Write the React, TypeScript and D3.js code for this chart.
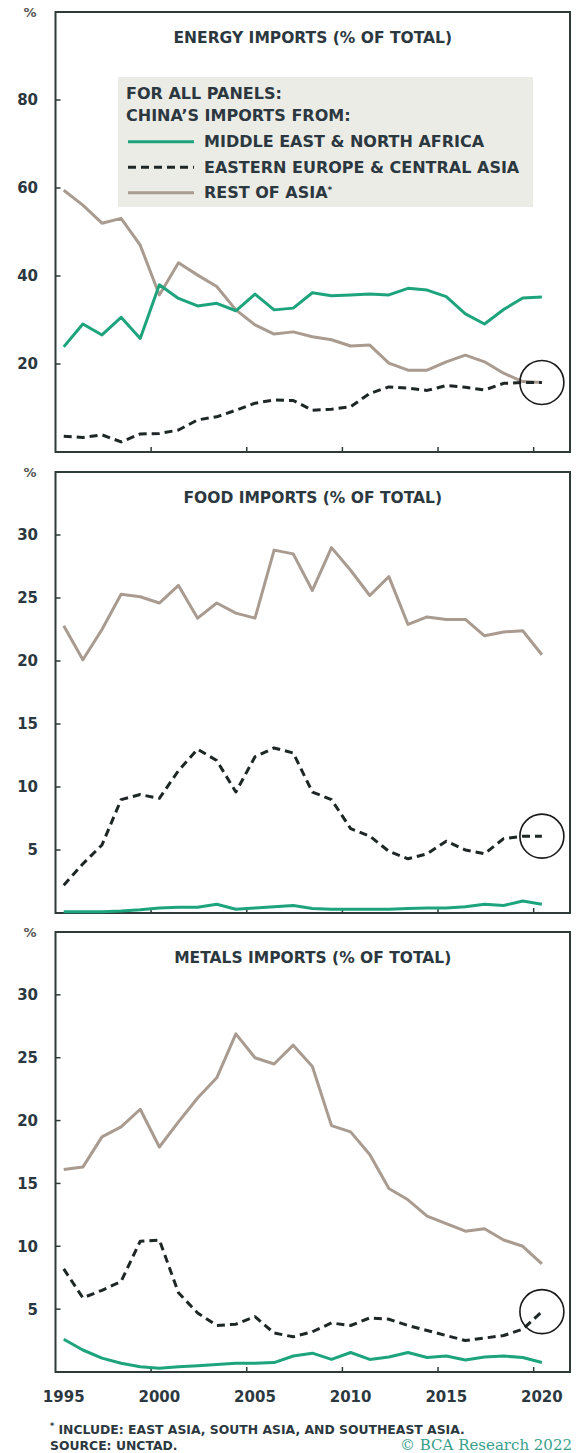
import React from "react";
import * as d3 from "d3";

const years = [1995,1996,1997,1998,1999,2000,2001,2002,2003,2004,2005,2006,2007,2008,2009,2010,2011,2012,2013,2014,2015,2016,2017,2018,2019,2020];

const energyMENA = [23.9,29.1,26.6,30.6,25.8,38.0,34.9,33.2,33.8,32.1,35.9,32.3,32.7,36.2,35.5,35.7,35.9,35.7,37.2,36.8,35.3,31.4,29.1,32.4,35.0,35.2];
const energyEECA = [3.6,3.3,3.9,2.3,4.1,4.2,5.0,7.3,8.0,9.5,11.1,11.8,11.7,9.5,9.7,10.3,13.3,14.8,14.5,14.0,15.1,14.7,14.1,15.6,15.8,15.8];
const energyRest = [59.5,56.1,52.0,53.1,47.0,35.7,43.0,40.2,37.6,32.3,28.9,26.8,27.3,26.2,25.5,24.1,24.3,20.2,18.6,18.6,20.5,22.0,20.5,17.9,16.0,15.8];

const foodMENA = [0.1,0.1,0.1,0.15,0.25,0.4,0.45,0.45,0.7,0.3,0.4,0.5,0.6,0.35,0.3,0.3,0.3,0.3,0.35,0.4,0.4,0.5,0.7,0.6,0.95,0.7];
const foodEECA = [2.2,3.9,5.4,9.0,9.4,9.1,11.3,13.0,12.1,9.6,12.4,13.1,12.7,9.6,9.0,6.7,6.1,4.9,4.3,4.7,5.7,5.0,4.7,5.9,6.1,6.1];
const foodRest = [22.8,20.1,22.5,25.3,25.1,24.6,26.0,23.4,24.6,23.8,23.4,28.8,28.5,25.6,29.0,27.2,25.2,26.7,22.9,23.5,23.3,23.3,22.0,22.3,22.4,20.5];

const metalsMENA = [2.6,1.75,1.1,0.7,0.42,0.3,0.42,0.5,0.6,0.7,0.7,0.75,1.27,1.5,1.0,1.55,1.0,1.2,1.55,1.15,1.27,0.95,1.2,1.27,1.15,0.75];
const metalsEECA = [8.2,5.9,6.5,7.2,10.4,10.5,6.3,4.7,3.7,3.8,4.4,3.1,2.8,3.2,3.9,3.7,4.3,4.2,3.7,3.3,2.9,2.5,2.7,2.9,3.4,4.8];
const metalsRest = [16.1,16.3,18.7,19.5,20.9,17.9,19.9,21.8,23.4,26.9,25.0,24.5,26.0,24.3,19.6,19.1,17.3,14.6,13.7,12.4,11.8,11.2,11.4,10.5,10.0,8.6];

const energyTicks = [20, 40, 60, 80];
const foodTicks = [5, 10, 15, 20, 25, 30];
const metalsTicks = [5, 10, 15, 20, 25, 30];
const xTickYears = [2000, 2005, 2010, 2015, 2020];
const xLabelYears = [1995, 2000, 2005, 2010, 2015, 2020];

const legendTitle1 = "FOR ALL PANELS:";
const legendTitle2 = "CHINA\u2019S IMPORTS FROM:";
const seriesNames = ["MIDDLE EAST & NORTH AFRICA", "EASTERN EUROPE & CENTRAL ASIA", "REST OF ASIA"];

const GREEN = "#1ea47c";
const DARK = "#1e2626";
const TAUPE = "#a99b90";
const FRAME = "#2e3b38";
const TEXT = "#2c3840";
const FONT = "'DejaVu Sans', sans-serif";

const OFFSET = 0.43;

export default function App() {
  const x = d3.scaleLinear().domain([1995, 2021.9]).range([55.5, 570]);

  const panels = [
    { title: "ENERGY IMPORTS (% OF TOTAL)", top: 12, bottom: 452, max: 100, ticks: energyTicks, mena: energyMENA, eeca: energyEECA, rest: energyRest, legend: true },
    { title: "FOOD IMPORTS (% OF TOTAL)", top: 472, bottom: 913, max: 35, ticks: foodTicks, mena: foodMENA, eeca: foodEECA, rest: foodRest, legend: false },
    { title: "METALS IMPORTS (% OF TOTAL)", top: 932, bottom: 1372, max: 35, ticks: metalsTicks, mena: metalsMENA, eeca: metalsEECA, rest: metalsRest, legend: false },
  ];

  const left = x.range()[0];
  const right = x.range()[1];

  return (
    <svg width={580} height={1453} style={{ position: "absolute", left: 0, top: 0, background: "#fff" }} fontFamily={FONT}>
      {panels.map((p, pi) => {
        const y = d3.scaleLinear().domain([0, p.max]).range([p.bottom, p.top]);
        const line = d3
          .line<number>()
          .x((_, i) => x(years[i] + OFFSET))
          .y((d) => y(d));
        const last = years.length - 1;
        return (
          <g key={pi}>
            <rect x={left} y={p.top} width={right - left} height={p.bottom - p.top} fill="none" stroke={FRAME} strokeWidth={2} />
            <text x={30} y={p.top} dy="0.35em" textAnchor="middle" fontSize={13} fill="#555" fontWeight="bold">%</text>
            {p.ticks.map((t) => (
              <g key={t}>
                <line x1={left} x2={left + 5} y1={y(t)} y2={y(t)} stroke={FRAME} strokeWidth={1.5} />
                <text x={38} y={y(t)} dy="0.36em" textAnchor="end" fontSize={15} fontWeight="bold" fill={TEXT}>{t}</text>
              </g>
            ))}
            {xTickYears.map((yr) => (
              <line key={yr} x1={x(yr)} x2={x(yr)} y1={p.bottom} y2={p.bottom - 5} stroke={FRAME} strokeWidth={1.5} />
            ))}
            <text x={(left + right) / 2} y={p.top + 31} textAnchor="middle" fontSize={15.5} fontWeight="bold" fill={TEXT}>{p.title}</text>
            <path d={line(p.rest) || ""} fill="none" stroke={TAUPE} strokeWidth={3} strokeLinejoin="round" />
            <path d={line(p.mena) || ""} fill="none" stroke={GREEN} strokeWidth={3} strokeLinejoin="round" />
            <path d={line(p.eeca) || ""} fill="none" stroke={DARK} strokeWidth={3} strokeDasharray="8,5" strokeLinejoin="round" />
            <circle cx={x(years[last] + OFFSET)} cy={y(p.eeca[last])} r={22} fill="none" stroke="#1a1a1a" strokeWidth={1.6} />
            {p.legend && (
              <g>
                <rect x={118} y={77} width={415} height={130} fill="#ecece7" />
                <text x={126} y={98.5} fontSize={16} fontWeight="bold" fill={TEXT}>{legendTitle1}</text>
                <text x={126} y={120.5} fontSize={16} fontWeight="bold" fill={TEXT}>{legendTitle2}</text>
                {seriesNames.map((n, i) => {
                  const cy = 141.7 + i * 25.5;
                  const stroke = i === 0 ? GREEN : i === 1 ? DARK : TAUPE;
                  return (
                    <g key={n}>
                      <line x1={128} x2={194} y1={cy} y2={cy} stroke={stroke} strokeWidth={3} strokeDasharray={i === 1 ? "8,5" : undefined} />
                      <text x={204} y={cy} dy="0.36em" fontSize={16} fontWeight="bold" fill={TEXT}>
                        {n}
                        {i === 2 && <tspan fontSize={9} dy="-0.6em">*</tspan>}
                      </text>
                    </g>
                  );
                })}
              </g>
            )}
          </g>
        );
      })}
      {xLabelYears.map((yr) => (
        <text key={yr} x={x(yr + OFFSET)} y={1402} textAnchor="middle" fontSize={15} fontWeight="bold" fill={TEXT}>{yr}</text>
      ))}
      <text x={50} y={1432} fontSize={12.4} fontWeight="bold" fill={TEXT}>
        <tspan fontSize={8} dy="-0.4em">*</tspan>
        <tspan dy="0.4em"> INCLUDE: EAST ASIA, SOUTH ASIA, AND SOUTHEAST ASIA.</tspan>
      </text>
      <text x={50} y={1450} fontSize={12.4} fontWeight="bold" fill={TEXT}>SOURCE: UNCTAD.</text>
      <text x={572} y={1450} textAnchor="end" fontSize={15} fontFamily="'DejaVu Serif', serif" fill="#3a9e8c">© BCA Research 2022</text>
    </svg>
  );
}
